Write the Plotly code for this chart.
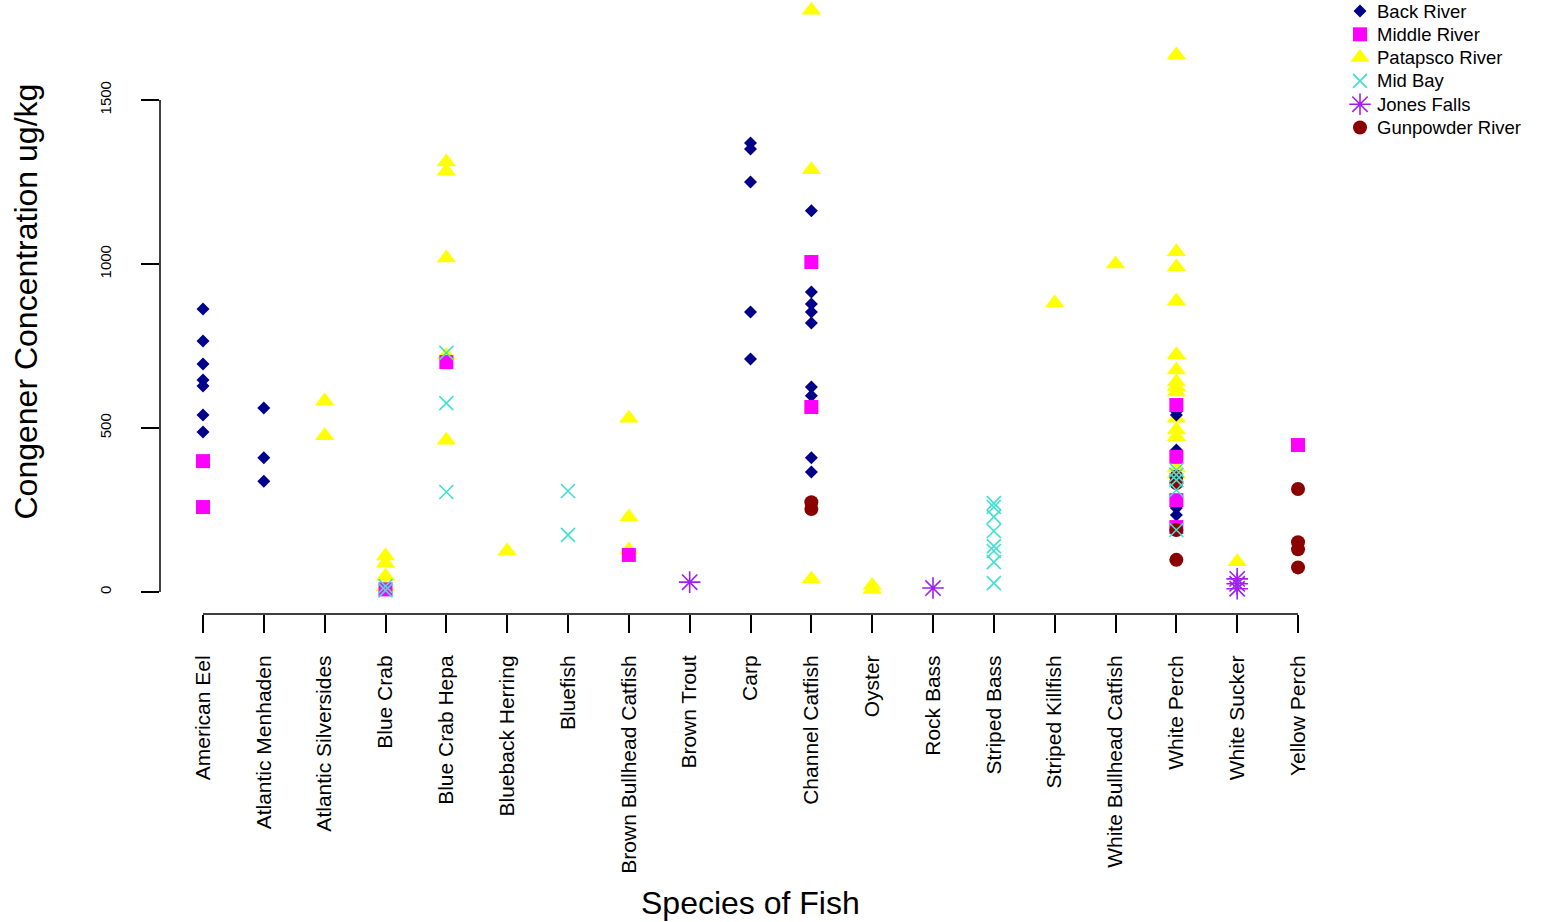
import plotly.graph_objects as go

categories = ["American Eel", "Atlantic Menhaden", "Atlantic Silversides", "Blue Crab",
              "Blue Crab Hepa", "Blueback Herring", "Bluefish", "Brown Bullhead Catfish",
              "Brown Trout", "Carp", "Channel Catfish", "Oyster", "Rock Bass", "Striped Bass",
              "Striped Killfish", "White Bullhead Catfish", "White Perch", "White Sucker",
              "Yellow Perch"]

back_species = (["American Eel"] * 7 + ["Atlantic Menhaden"] * 3 + ["Carp"] * 5 +
                ["Channel Catfish"] * 9 + ["White Perch"] * 5)
back_values = [863, 765, 695, 646, 628, 540, 488,
               561, 409, 338,
               1369, 1351, 1250, 854, 710,
               1162, 915, 878, 854, 820, 625, 598, 409, 366,
               550, 540, 433, 256, 235]

middle_species = (["American Eel"] * 2 + ["Blue Crab"] + ["Blue Crab Hepa"] +
                  ["Brown Bullhead Catfish"] + ["Channel Catfish"] * 2 +
                  ["White Perch"] * 4 + ["Yellow Perch"])
middle_values = [399, 259, 8, 701, 113, 1006, 564, 570, 412, 280, 198, 448]

patapsco_species = (["Atlantic Silversides"] * 2 + ["Blue Crab"] * 4 + ["Blue Crab Hepa"] * 5 +
                    ["Blueback Herring"] + ["Brown Bullhead Catfish"] * 3 +
                    ["Channel Catfish"] * 3 + ["Oyster"] * 2 + ["Striped Killfish"] +
                    ["White Bullhead Catfish"] + ["White Perch"] * 14 + ["White Sucker"])
patapsco_values = [582, 476,
                   110, 88, 48, 15,
                   1311, 1283, 1018, 722, 463,
                   125,
                   530, 229, 128,
                   1774, 1287, 40,
                   20, 8,
                   881,
                   1000,
                   1637, 1037, 991, 887, 723, 677, 640, 625, 610, 530, 494, 473, 378, 360,
                   92]

midbay_species = (["Blue Crab"] * 2 + ["Blue Crab Hepa"] * 3 + ["Bluefish"] * 2 +
                  ["Striped Bass"] * 8 + ["White Perch"] * 5)
midbay_values = [18, 5,
                 729, 576, 305,
                 308, 174,
                 271, 259, 229, 186, 140, 125, 91, 27,
                 372, 357, 341, 311, 189]

jones_species = ["Brown Trout", "Rock Bass", "White Sucker", "White Sucker", "White Sucker"]
jones_values = [30, 12, 40, 25, 10]

gunpowder_species = ["Channel Catfish"] * 2 + ["White Perch"] * 4 + ["Yellow Perch"] * 4
gunpowder_values = [274, 253, 351, 332, 189, 98, 314, 152, 130, 75]

y_ticks = [0, 500, 1000, 1500]

legend_names = ["Back River", "Middle River", "Patapsco River", "Mid Bay", "Jones Falls",
                "Gunpowder River"]

FONT = "Liberation Sans, Arial, Helvetica, sans-serif"

styles = {
    "Back River": dict(symbol="diamond", size=10, color="#00008B", lw=0),
    "Middle River": dict(symbol="square", size=14, color="#FF00FF", lw=0),
    "Patapsco River": dict(symbol="triangle-up", size=17, color="#FFFF00", lw=0),
    "Mid Bay": dict(symbol="x-thin-open", size=14, color="#40E0D0", lw=1.6),
    "Jones Falls": dict(symbol="asterisk-open", size=18, color="#A020F0", lw=1.6),
    "Gunpowder River": dict(symbol="circle", size=14, color="#8B0000", lw=0),
}


def marker_of(name):
    s = styles[name]
    m = dict(symbol=s["symbol"], size=s["size"], color=s["color"], opacity=1)
    m["line"] = dict(color=s["color"], width=s["lw"]) if s["lw"] else dict(width=0)
    return m


fig = go.Figure()

draw_order = [
    ("Patapsco River", patapsco_species, patapsco_values),
    ("Back River", back_species, back_values),
    ("Middle River", middle_species, middle_values),
    ("Gunpowder River", gunpowder_species, gunpowder_values),
    ("Jones Falls", jones_species, jones_values),
    ("Mid Bay", midbay_species, midbay_values),
]

for name, sp, vals in draw_order:
    fig.add_trace(go.Scatter(x=sp, y=vals, mode="markers", name=name, marker=marker_of(name),
                             showlegend=False, cliponaxis=False))

W, H = 1541, 922
L, T, B = 160, 0, 308
PLOT_RIGHT = 1342
area_w = W - L
plot_h = H - T - B
split = (PLOT_RIGHT - L) / area_w

# legend keys drawn in a pixel-scaled overlay area to the right of the plot
LEG_KEY_X, LEG_TEXT_X, LEG_Y0, LEG_DY = 1360, 1375, 11, 23.3
for i, n in enumerate(legend_names):
    fig.add_trace(go.Scatter(
        x=[LEG_KEY_X], y=[LEG_Y0 + i * LEG_DY],
        mode="markers", xaxis="x2", yaxis="y2", showlegend=False, hoverinfo="skip",
        marker=marker_of(n), cliponaxis=False))
    fig.add_annotation(text=n, xref="x2", yref="y2", x=LEG_TEXT_X, y=LEG_Y0 + i * LEG_DY,
                       xanchor="left", yanchor="middle", showarrow=False,
                       font=dict(size=18.5, family=FONT))

fig.update_layout(
    width=W, height=H,
    margin=dict(l=L, r=0, t=T, b=B, pad=0),
    plot_bgcolor="white", paper_bgcolor="white",
    font=dict(family=FONT, color="black"),
    showlegend=False,
    xaxis=dict(domain=[0, split], type="category", categoryorder="array",
               categoryarray=categories,
               range=[-0.707, 18.723], showgrid=False, zeroline=False, showline=False,
               ticks="outside", ticklen=18, tickwidth=1.5, tickcolor="black",
               tickangle=-90, tickfont=dict(size=21, family=FONT),
               ticklabelstandoff=14),
    yaxis=dict(range=[-67.07, 1804.9], tickvals=y_ticks, ticktext=[str(v) for v in y_ticks],
               showgrid=False, zeroline=False, showline=False,
               ticks="outside", ticklen=18, tickwidth=1.5, tickcolor="black",
               tickangle=-90, tickfont=dict(size=15, family=FONT),
               ticklabelstandoff=24),
    xaxis2=dict(domain=[split, 1], range=[PLOT_RIGHT, W], visible=False, fixedrange=True),
    yaxis2=dict(domain=[0, 1], range=[plot_h, 0], anchor="x2", visible=False, fixedrange=True),
)

# R-style axis lines spanning first to last tick
fig.add_shape(type="line", xref="x domain", yref="y", x0=0, x1=0, y0=y_ticks[0], y1=y_ticks[-1],
              line=dict(color="black", width=1.5))
fig.add_shape(type="line", xref="x", yref="y domain", x0=categories[0], x1=categories[-1],
              y0=0, y1=0, line=dict(color="black", width=1.5))

fig.add_annotation(text="Congener Concentration ug/kg", xref="paper", yref="paper",
                   x=(25 - L) / area_w, y=(plot_h - 301.5) / plot_h, textangle=-90,
                   showarrow=False, xanchor="center", yanchor="middle",
                   font=dict(size=32, family=FONT))
fig.add_annotation(text="Species of Fish", xref="paper", yref="paper",
                   x=(750 - L) / area_w, y=(plot_h - 903) / plot_h,
                   showarrow=False, xanchor="center", yanchor="middle",
                   font=dict(size=32, family=FONT))

fig.write_html("out.html", config={"displayModeBar": False},
               post_script="document.body.style.margin='0px';")
